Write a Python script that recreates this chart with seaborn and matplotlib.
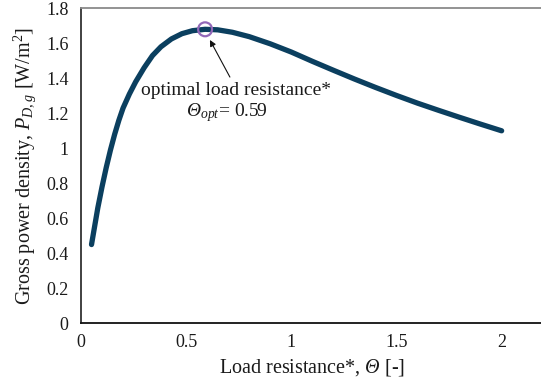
import matplotlib
matplotlib.use("Agg")
import matplotlib.pyplot as plt
import seaborn as sns
import pandas as pd

# Load resistance (dimensionless) and gross power density [W/m^2]
theta = [0.05, 0.06, 0.07, 0.08, 0.09, 0.10, 0.12, 0.14, 0.16, 0.18, 0.20,
         0.23, 0.26, 0.30, 0.34, 0.38, 0.43, 0.48, 0.53, 0.59, 0.65, 0.72,
         0.80, 0.90, 1.00, 1.10, 1.20, 1.30, 1.40, 1.50, 1.60, 1.70, 1.80,
         1.90, 2.00]
power = [0.45, 0.52, 0.59, 0.66, 0.72, 0.78, 0.89, 0.99, 1.08, 1.16, 1.23,
         1.31, 1.38, 1.46, 1.53, 1.58, 1.625, 1.655, 1.672, 1.68, 1.677, 1.663,
         1.638, 1.597, 1.55, 1.497, 1.446, 1.396, 1.348, 1.302, 1.258, 1.217,
         1.177, 1.138, 1.10]

theta_opt = [0.59]
power_opt = [1.68]

x_ticks = [0, 0.5, 1, 1.5, 2]
y_ticks = [0, 0.2, 0.4, 0.6, 0.8, 1, 1.2, 1.4, 1.6, 1.8]
x_tick_labels = ["0", "0.5", "1", "1.5", "2"]
y_tick_labels = ["0", "0.2", "0.4", "0.6", "0.8", "1", "1.2", "1.4", "1.6", "1.8"]

sns.set_style("white")
plt.rcParams["font.family"] = ["Liberation Serif", "DejaVu Serif"]
# Math text in the same serif face; the sf slot is used for an italic Theta
plt.rcParams["mathtext.fontset"] = "custom"
plt.rcParams["mathtext.rm"] = "Liberation Serif"
plt.rcParams["mathtext.it"] = "Liberation Serif:italic"
plt.rcParams["mathtext.bf"] = "Liberation Serif:bold"
plt.rcParams["mathtext.sf"] = "Liberation Serif:italic"

df = pd.DataFrame({"theta": theta, "power": power})
df_opt = pd.DataFrame({"theta": theta_opt, "power": power_opt})

fig = plt.figure(figsize=(5.41, 3.88), dpi=100)
ax = fig.add_axes([81 / 541, 64.7 / 388, 462.7 / 541, 315.0 / 388])

sns.lineplot(data=df, x="theta", y="power", ax=ax, color="#0b3f5f",
             linewidth=3.8, solid_capstyle="round", solid_joinstyle="round",
             sort=True)
sns.scatterplot(data=df_opt, x="theta", y="power", ax=ax, s=100,
                facecolor="none", edgecolor="#9268b8", linewidth=1.6,
                zorder=5)

ax.set_xlim(0, 2.2)
ax.set_ylim(0, 1.8)
ax.set_xticks(x_ticks)
ax.set_xticklabels(x_tick_labels)
ax.set_yticks(y_ticks)
ax.set_yticklabels(y_tick_labels)

ax.tick_params(axis="x", direction="in", length=3, width=1, pad=8,
               labelsize=13, colors="#222222")
ax.tick_params(axis="y", direction="out", length=3, width=1, pad=6,
               labelsize=13, colors="#222222")
ax.tick_params(axis="both", labelcolor="#1a1a1a")

for side in ["left", "bottom", "top", "right"]:
    ax.spines[side].set_visible(True)
ax.spines["left"].set_color("#333333")
ax.spines["left"].set_linewidth(1.3)
ax.spines["bottom"].set_color("#111111")
ax.spines["bottom"].set_linewidth(1.3)
ax.spines["top"].set_color("#8a8a8a")
ax.spines["top"].set_linewidth(1.3)
ax.spines["right"].set_color("#8a8a8a")

ax.set_xlabel(r"Load resistance*, $\mathsf{Θ}$ [-]", fontsize=14.5,
              color="#1a1a1a", labelpad=4)
ax.set_ylabel(r"Gross power density, $P_{D,g}$ [W/m$^2$]",
              fontsize=14.5, color="#1a1a1a", labelpad=6)

ax.annotate("", xy=(0.613, 1.619), xytext=(0.708, 1.407),
            arrowprops=dict(arrowstyle="-|>", color="#111111", lw=0.8,
                            mutation_scale=9, shrinkA=0, shrinkB=0))
ax.text(0.737, 1.333, "optimal load resistance*", fontsize=14,
        ha="center", va="center", color="#1a1a1a")
ax.text(0.694, 1.207, r"$\mathsf{Θ}_{opt}$= 0.59", fontsize=14,
        ha="center", va="center", color="#1a1a1a")

fig.savefig("out.png", dpi=100)
